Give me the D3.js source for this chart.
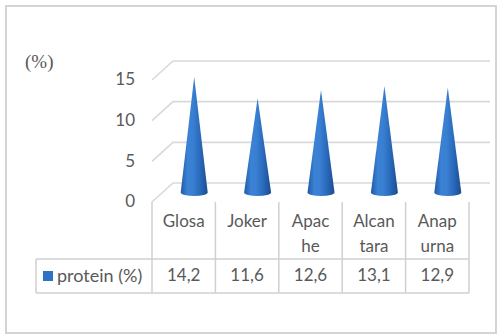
<!DOCTYPE html>
<html><head><meta charset="utf-8">
<script src="https://cdn.jsdelivr.net/npm/d3@7"></script>
<style>
html,body{margin:0;padding:0;background:#fff;}
svg{display:block;font-family:Lato,"Open Sans",sans-serif;}
</style></head>
<body>
<svg id="c" width="497" height="335"></svg>
<script>
const categories = ["Glosa", "Joker", "Apac\nhe", "Alcan\ntara", "Anap\nurna"];
const seriesName = "protein (%)";
const values = [14.2, 11.6, 12.6, 13.1, 12.9];
const yTicks = [0, 5, 10, 15];
const yUnitLabel = "(%)";

const svg = d3.select("#c");
const textColor = "#595959", gridColor = "#d9d9d9", tableColor = "#d0d0d0";
const depth = {dx: 21, dy: -19};

// outer frame
svg.append("rect").attr("x", 6).attr("y", 6).attr("width", 490).attr("height", 327)
  .attr("fill", "#fff").attr("stroke", "#d4d4d4").attr("stroke-width", 2);

const x = d3.scaleBand().domain(categories).range([152, 469]).padding(0);
const y = d3.scaleLinear().domain([0, 15]).range([202, 80]);

// gridlines (3D walls)
const grid = svg.append("g");
yTicks.forEach(t => {
  const yf = y(t);
  grid.append("path")
    .attr("d", `M${x.range()[0]},${yf} L${x.range()[0] + depth.dx},${yf + depth.dy} L${x.range()[1] + depth.dx},${yf + depth.dy}`)
    .attr("fill", "none").attr("stroke", gridColor).attr("stroke-width", 1.6);
});

// y tick labels
svg.append("g").selectAll("text").data(yTicks).join("text")
  .attr("x", 135).attr("y", d => y(d) + 1)
  .attr("text-anchor", "end").attr("dominant-baseline", "middle")
  .attr("font-size", 17).attr("fill", textColor).text(d => d);

svg.append("text").attr("x", 25).attr("y", 64).attr("dominant-baseline", "middle")
  .attr("font-family", "'Liberation Serif','DejaVu Serif',serif")
  .attr("font-size", 19).attr("fill", textColor).text(yUnitLabel);

// cone gradient
const defs = svg.append("defs");
const grad = defs.append("linearGradient").attr("id", "cone").attr("x1", 0).attr("x2", 1).attr("y1", 0).attr("y2", 0);
[[0, "#1f5aa5"], [0.25, "#3a82d4"], [0.45, "#3a80d2"], [0.7, "#2a6bbd"], [1, "#1b4c8f"]]
  .forEach(([o, c]) => grad.append("stop").attr("offset", o).attr("stop-color", c));

// cones
const halfW = 13.5, ry = 3.5;
svg.append("g").selectAll("path").data(categories.map((c, i) => ({c, v: values[i]}))).join("path")
  .attr("d", d => {
    const cx = x(d.c) + x.bandwidth() / 2 + depth.dx / 2;
    const cy = y(0) + depth.dy / 2;
    const ay = y(d.v) + depth.dy / 2;
    return `M${cx},${ay} L${cx - halfW},${cy} A${halfW},${ry} 0 0 0 ${cx + halfW},${cy} Z`;
  })
  .attr("fill", "url(#cone)");

// data table
const tbl = svg.append("g").attr("stroke", tableColor).attr("stroke-width", 1.5).attr("fill", "none");
const rowTop = 259, rowBot = 293, tblLeft = 36;
x.domain().forEach(c => {
  tbl.append("line").attr("x1", x(c)).attr("x2", x(c)).attr("y1", y(0)).attr("y2", rowBot);
});
tbl.append("line").attr("x1", x.range()[1]).attr("x2", x.range()[1]).attr("y1", y(0)).attr("y2", rowBot);
tbl.append("line").attr("x1", tblLeft).attr("x2", tblLeft).attr("y1", rowTop).attr("y2", rowBot);
tbl.append("line").attr("x1", tblLeft).attr("x2", x.range()[1]).attr("y1", rowTop).attr("y2", rowTop);
tbl.append("line").attr("x1", tblLeft).attr("x2", x.range()[1]).attr("y1", rowBot).attr("y2", rowBot);

// category labels
const catG = svg.append("g");
categories.forEach(c => {
  const lines = c.split("\n");
  catG.append("text").attr("x", x(c) + x.bandwidth() / 2).attr("y", 223)
    .attr("text-anchor", "middle").attr("font-size", 17).attr("fill", textColor)
    .attr("dominant-baseline", "middle")
    .selectAll("tspan").data(lines).join("tspan")
    .attr("x", x(c) + x.bandwidth() / 2).attr("dy", (d, i) => i === 0 ? 0 : 25).text(d => d);
});

// values row
const fmt = d3.formatLocale({decimal: ",", thousands: ".", grouping: [3], currency: ["", ""]}).format(".1f");
svg.append("g").selectAll("text").data(values).join("text")
  .attr("x", (d, i) => x(categories[i]) + x.bandwidth() / 2).attr("y", 277)
  .attr("text-anchor", "middle").attr("dominant-baseline", "middle")
  .attr("font-size", 17).attr("fill", textColor).text(d => fmt(d));

// legend key + series name
svg.append("rect").attr("x", 43).attr("y", 271).attr("width", 10).attr("height", 10).attr("fill", "#2e74c4");
svg.append("text").attr("x", 57).attr("y", 277).attr("dominant-baseline", "middle")
  .attr("font-size", 18).attr("fill", textColor).text(seriesName);
</script>
</body></html>
